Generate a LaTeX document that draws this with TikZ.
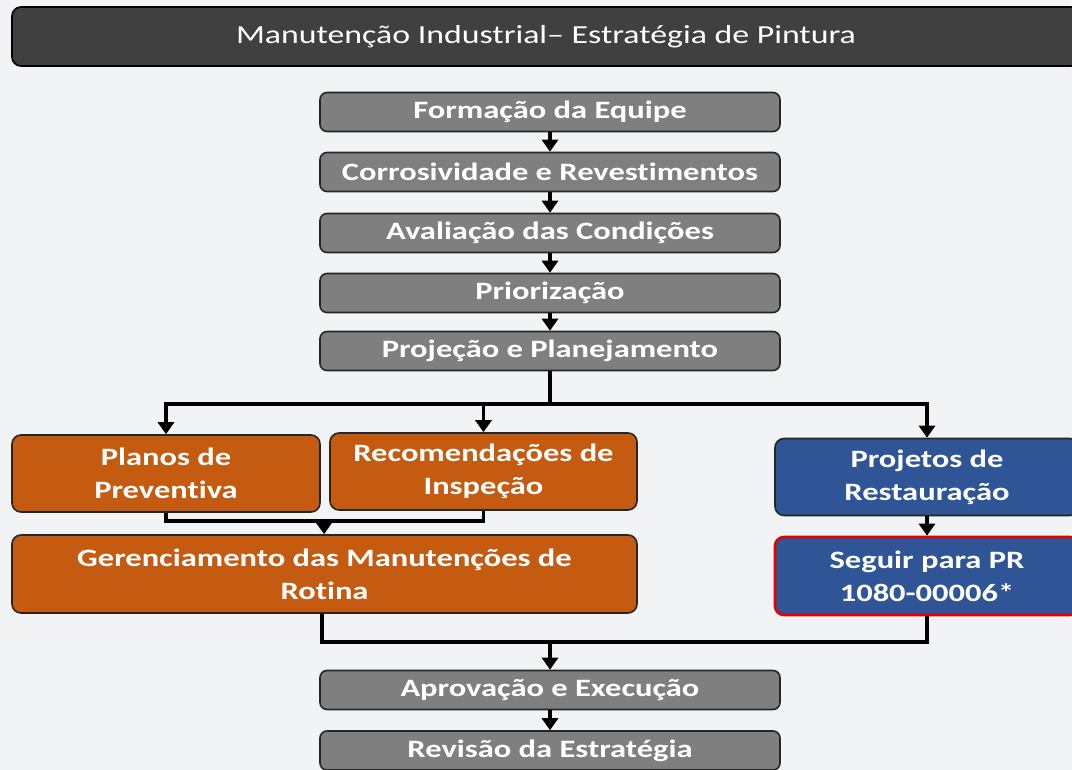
\documentclass[tikz,border=0pt]{standalone}
\usepackage{fontspec}
\setmainfont{Carlito}[FakeStretch=1.3, Ligatures={NoCommon}]
\usetikzlibrary{arrows.meta}

\definecolor{barGray}{HTML}{404040}
\definecolor{stepGray}{HTML}{7F7F7F}
\definecolor{rotOrange}{HTML}{C55A11}
\definecolor{resBlue}{HTML}{2F5597}
\definecolor{pageBg}{HTML}{F2F3F5}

\begin{document}
\begin{tikzpicture}[x=1pt, y=-1pt,
    titlebar/.style={draw=black, line width=1.6pt, rounded corners=9pt, fill=barGray, text=white, font=\fontsize{26}{30}\selectfont, minimum width=1068pt, minimum height=59pt, inner sep=0pt},
    phase/.style={draw=black!85, line width=1.6pt, rounded corners=7pt, fill=stepGray, text=white, font=\bfseries\fontsize{25}{30}\selectfont, minimum width=460pt, minimum height=39pt, inner sep=0pt},
    rotbox/.style={draw=black!85, line width=1.6pt, rounded corners=9pt, fill=rotOrange, text=white, font=\bfseries\fontsize{25}{33}\selectfont, minimum height=77pt, inner sep=0pt, align=center},
    resbox/.style={rotbox, fill=resBlue},
    flow/.style={line width=3.2pt, -{Triangle[width=16pt,length=12pt]}},
    link/.style={line width=3.2pt}]
    \clip (0,0) rectangle (1072,770);
    \fill[pageBg] (0,0) rectangle (1072,770);

    \node[titlebar] (title) at (546,36.5) {Manutenção Industrial– Estratégia de Pintura};

    \node[phase] (formacao) at (550,112) {Formação da Equipe};
    \node[phase] (corros) at (550,172) {Corrosividade e Revestimentos};
    \node[phase] (avalia) at (550,233) {Avaliação das Condições};
    \node[phase] (prior) at (550,293) {Priorização};
    \node[phase] (projecao) at (550,351) {Projeção e Planejamento};

    \node[rotbox, minimum width=308pt] (planos) at (166,473.5) {Planos de\\Preventiva};
    \node[rotbox, minimum width=307pt] (recom) at (483.5,471.5) {Recomendações de\\Inspeção};
    \node[resbox, minimum width=304pt] (projetos) at (927,477) {Projetos de\\Restauração};
    \node[rotbox, minimum width=625pt, minimum height=78pt] (gerenc) at (324.5,574) {Gerenciamento das Manutenções de\\Rotina};
    \node[resbox, draw=red!90!black, line width=2.6pt, minimum width=304pt, minimum height=78pt] (seguir) at (927,576) {Seguir para PR\\1080-00006*};

    \node[phase] (aprov) at (550,690) {Aprovação e Execução};
    \node[phase] (revisao) at (550,750.5) {Revisão da Estratégia};

    \coordinate (fork) at (550,404);
    \coordinate (merge) at (324,521);
    \coordinate (meet) at (550,642);

    \draw[flow] (formacao) -- (corros);
    \draw[flow] (corros) -- (avalia);
    \draw[flow] (avalia) -- (prior);
    \draw[flow] (prior) -- (projecao);

    \draw[link] (projecao) -- (fork);
    \draw[flow] (fork) -| (planos);
    \draw[flow] (fork) -| (recom);
    \draw[flow] (fork) -| (projetos);

    \draw[link] (planos) |- (merge);
    \draw[link] (recom) |- (merge);
    \draw[flow] (merge) -- (gerenc);
    \draw[flow] (projetos) -- (seguir);

    \draw[link] (gerenc.south -| 322,0) |- (meet);
    \draw[link] (seguir) |- (meet);
    \draw[flow] (meet) -- (aprov);
    \draw[flow] (aprov) -- (revisao);
\end{tikzpicture}
\end{document}
